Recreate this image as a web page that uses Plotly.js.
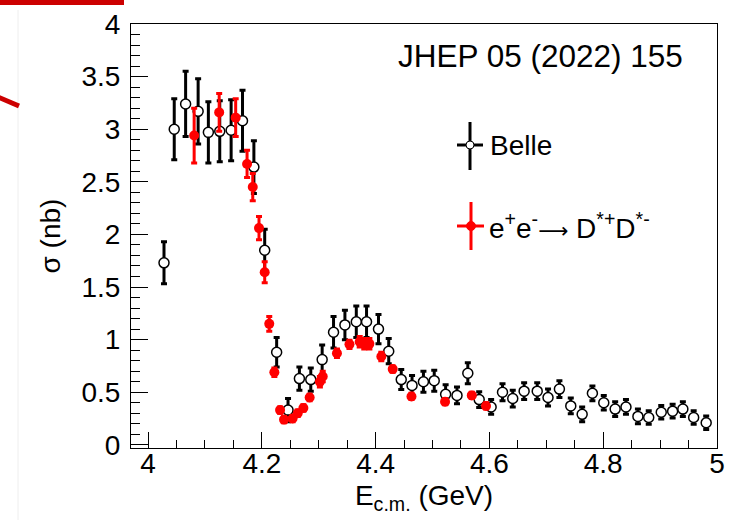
<!DOCTYPE html>
<html>
<head>
<meta charset="utf-8">
<script src="https://cdn.plot.ly/plotly-3.0.1.min.js"></script>
<style>html,body{margin:0;padding:0;background:#fff;}#chart{width:735px;height:520px;}</style>
</head>
<body>
<div id="chart"></div>
<script>
// Belle measurement
const belleE = [4.028,4.046,4.066,4.088,4.106,4.126,4.146,4.166,4.186,4.205,4.226,4.246,4.266,4.286,4.306,4.326,4.346,4.366,4.384,4.405,4.423,4.445,4.464,4.484,4.503,4.523,4.543,4.562,4.582,4.603,4.623,4.641,4.661,4.684,4.703,4.723,4.743,4.763,4.781,4.801,4.821,4.840,4.861,4.880,4.902,4.922,4.940,4.959,4.981];
const belleSigma = [1.73,3.00,3.24,3.17,2.97,2.98,2.99,3.08,2.64,1.85,0.88,0.33,0.63,0.62,0.81,1.07,1.14,1.17,1.17,1.10,0.89,0.62,0.565,0.60,0.61,0.48,0.47,0.68,0.43,0.36,0.50,0.44,0.51,0.51,0.45,0.53,0.37,0.29,0.49,0.40,0.34,0.36,0.27,0.26,0.31,0.32,0.34,0.26,0.21];
const belleErr = [0.20,0.29,0.31,0.31,0.29,0.29,0.29,0.29,0.25,0.20,0.14,0.11,0.11,0.11,0.14,0.15,0.14,0.15,0.15,0.14,0.12,0.095,0.095,0.10,0.10,0.09,0.08,0.10,0.075,0.07,0.08,0.08,0.08,0.08,0.08,0.08,0.075,0.07,0.07,0.07,0.07,0.07,0.07,0.065,0.065,0.065,0.07,0.065,0.065];

// e+e- -> D*+ D*- measurement
const dstarE = [4.081,4.125,4.154,4.174,4.184,4.195,4.205,4.213,4.222,4.232,4.239,4.254,4.263,4.273,4.284,4.302,4.307,4.332,4.354,4.372,4.380,4.389,4.410,4.430,4.463,4.522,4.569,4.594];
const dstarSigma = [2.94,3.16,3.11,2.67,2.45,2.06,1.64,1.15,0.69,0.33,0.24,0.25,0.30,0.35,0.45,0.60,0.65,0.87,0.955,0.98,0.96,0.96,0.84,0.72,0.46,0.41,0.47,0.37];
const dstarErr = [0.26,0.18,0.18,0.13,0.13,0.11,0.10,0.07,0.04,0.03,0.03,0.03,0.03,0.03,0.03,0.05,0.05,0.04,0.04,0.05,0.05,0.05,0.04,0.03,0.03,0.03,0.03,0.03];

const xTickVals = [4,4.2,4.4,4.6,4.8,5];
const yTickVals = [0,0.5,1,1.5,2,2.5,3,3.5,4];

const FONT = 'Liberation Sans, Arial, Helvetica, sans-serif';

const traces = [
  {
    x: belleE, y: belleSigma, type: 'scatter', mode: 'markers', name: 'Belle',
    marker: {symbol: 'circle', size: 10, color: '#ffffff', line: {color: '#000000', width: 1.5}},
    error_y: {type: 'data', array: belleErr, visible: true, color: '#000000', thickness: 3, width: 3}
  },
  {
    x: dstarE, y: dstarSigma, type: 'scatter', mode: 'markers', name: 'D*+D*-',
    marker: {symbol: 'circle', size: 10, color: '#ff0000', line: {width: 0}},
    error_y: {type: 'data', array: dstarErr, visible: true, color: '#ff0000', thickness: 3, width: 3}
  }
];

function px2x(p){ return (p - 131) / 586; }
function px2y(p){ return (448 - p) / 424; }

const shapes = [
  // decorations at top-left (slide fragment)
  {type:'line', xref:'paper', yref:'paper', x0:px2x(18), x1:px2x(18), y0:px2y(10), y1:px2y(520), line:{color:'#eeeeee', width:1}},
  {type:'rect', xref:'paper', yref:'paper', x0:px2x(-2), x1:px2x(124), y0:px2y(5), y1:px2y(-2), fillcolor:'#cc0000', line:{width:0}},
  {type:'line', xref:'paper', yref:'paper', x0:px2x(-2), x1:px2x(19), y0:px2y(97), y1:px2y(106), line:{color:'#cc0000', width:5}},
  // legend: Belle
  {type:'line', xref:'paper', yref:'paper', x0:px2x(470), x1:px2x(470), y0:px2y(122), y1:px2y(170), line:{color:'#000', width:3}},
  {type:'line', xref:'paper', yref:'paper', x0:px2x(457), x1:px2x(483), y0:px2y(145), y1:px2y(145), line:{color:'#000', width:3}},
  {type:'circle', xref:'paper', yref:'paper', x0:px2x(466), x1:px2x(474), y0:px2y(141), y1:px2y(149), fillcolor:'#ffffff', line:{color:'#000', width:1}},
  // legend: D*+D*-
  {type:'line', xref:'paper', yref:'paper', x0:px2x(471), x1:px2x(471), y0:px2y(202), y1:px2y(250), line:{color:'#ff0000', width:3}},
  {type:'line', xref:'paper', yref:'paper', x0:px2x(457), x1:px2x(484), y0:px2y(226), y1:px2y(226), line:{color:'#ff0000', width:3}},
  {type:'circle', xref:'paper', yref:'paper', x0:px2x(466.5), x1:px2x(475.5), y0:px2y(221.5), y1:px2y(230.5), fillcolor:'#ff0000', line:{color:'#ff0000', width:1}}
];

const annotations = [
  {text:'JHEP 05 (2022) 155', xref:'paper', yref:'paper', x:px2x(396), y:px2y(56), xanchor:'left', yanchor:'middle', showarrow:false, font:{family:FONT, size:31.5, color:'#000'}},
  {text:'Belle', xref:'paper', yref:'paper', x:px2x(488), y:px2y(145), xanchor:'left', yanchor:'middle', showarrow:false, font:{family:FONT, size:28, color:'#000'}},
  {text:'e<sup>+</sup>e<sup>-</sup><span style="font-family:DejaVu Sans;font-size:21px">\u27f6</span> D<sup>*+</sup>D<sup>*-</sup>', xref:'paper', yref:'paper', x:px2x(487), y:px2y(226), xanchor:'left', yanchor:'middle', showarrow:false, font:{family:FONT, size:28, color:'#000'}}
];

const layout = {
  width: 735, height: 520,
  margin: {l:131, r:18, t:24, b:72, pad:0},
  paper_bgcolor: '#ffffff', plot_bgcolor: '#ffffff',
  showlegend: false,
  font: {family: FONT, color: '#000'},
  xaxis: {
    range: [3.97, 5.0], tickvals: xTickVals, ticks: 'inside', ticklen: 16, tickwidth: 1, tickcolor: '#000',
    minor: {dtick: 0.05, ticks: 'inside', ticklen: 8, tickwidth: 1, tickcolor: '#000', showgrid: false},
    showgrid: false, zeroline: false, showline: true, linecolor: '#000', linewidth: 1, mirror: true,
    tickfont: {family: FONT, size: 28, color: '#000'}, ticklabelstandoff: -10,
    title: {text: 'E<sub>c.m.</sub> (GeV)', font: {family: FONT, size: 28, color: '#000'}, standoff: 7}
  },
  yaxis: {
    range: [-0.03, 4.0], tickvals: yTickVals, ticks: 'inside', ticklen: 17, tickwidth: 1, tickcolor: '#000',
    minor: {dtick: 0.1, ticks: 'inside', ticklen: 9, tickwidth: 1, tickcolor: '#000', showgrid: false},
    showgrid: false, zeroline: false, showline: true, linecolor: '#000', linewidth: 1, mirror: true,
    tickfont: {family: FONT, size: 28, color: '#000'}, ticklabelstandoff: 4,
    title: {text: '\u03c3 (nb)', font: {family: FONT, size: 28, color: '#000'}, standoff: 12}
  },
  shapes: shapes,
  annotations: annotations
};

Plotly.newPlot('chart', traces, layout, {staticPlot: true, displayModeBar: false});
</script>
</body>
</html>
